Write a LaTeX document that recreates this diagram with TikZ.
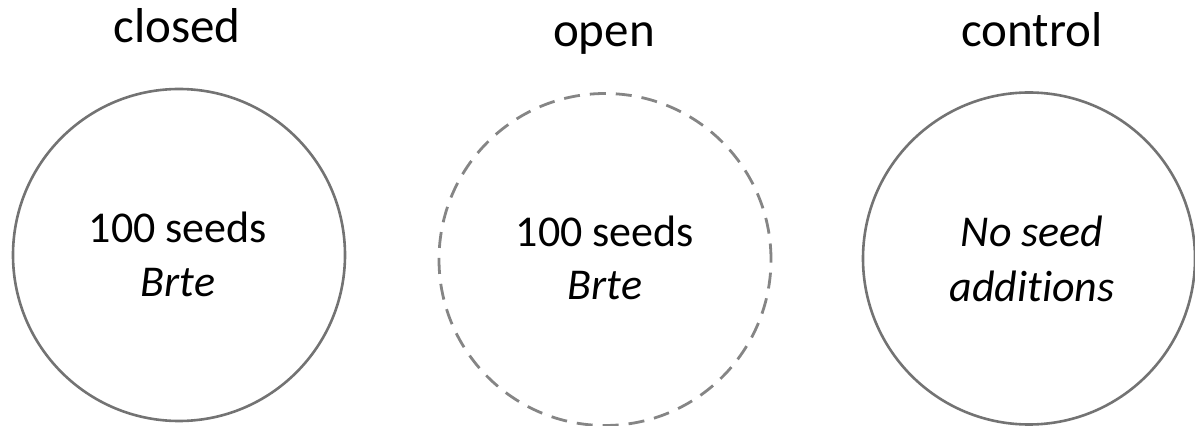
\documentclass[tikz,border=0pt]{standalone}
\usepackage{fontspec}
\setmainfont[Ligatures=NoCommon]{Carlito}
\begin{document}
\begin{tikzpicture}[x=1pt,y=1pt,
  plot/.style={circle, draw=black!55, line width=2.6pt, minimum size=332pt, inner sep=0pt},
  openplot/.style={plot, draw=black!48, line width=2.8pt, dash pattern=on 16pt off 10pt},
  title/.style={anchor=base, font=\fontsize{49}{58}\selectfont},
  inner/.style={anchor=base, font=\fontsize{44}{54}\selectfont}]
  \useasboundingbox (0,0) rectangle (1195,426);
  % treatment plots
  \node[plot] (closed) at (179,171) {};
  \node[openplot] (open) at (605,166.5) {};
  \node[plot] (control) at (1029,167.5) {};
  % column headings
  \node[title] (tclosed) at (177,383) {closed};
  \node[title] (topen) at (604,379) {open};
  \node[title] (tcontrol) at (1032,379) {control};
  % plot contents
  \node[inner] (c1) at (178,183) {100 seeds};
  \node[inner] (c2) at (178,129) {\itshape Brte};
  \node[inner] (o1) at (605,179) {100 seeds};
  \node[inner] (o2) at (605,126) {\itshape Brte};
  \node[inner] (n1) at (1032,179) {\itshape No seed};
  \node[inner] (n2) at (1032,124) {\itshape additions};
\end{tikzpicture}
\end{document}
